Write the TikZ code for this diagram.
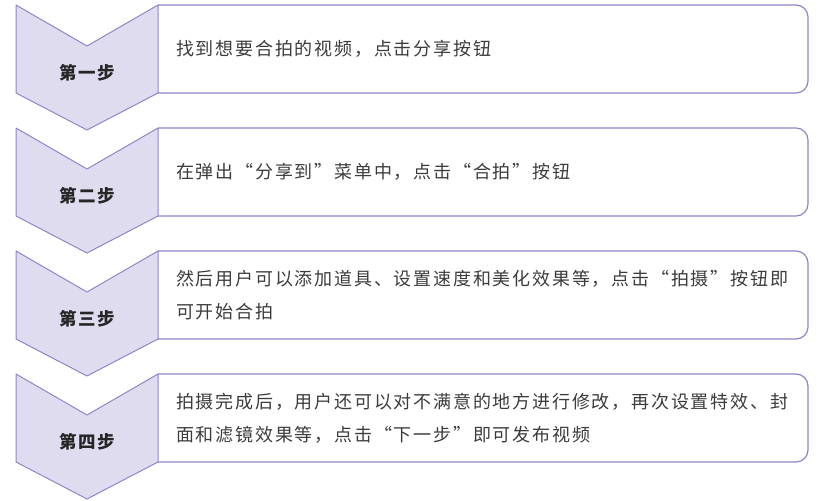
\documentclass[tikz,border=0pt]{standalone}
\usepackage{fontspec}
\newfontfamily\cjk[LetterSpace=10]{Noto Sans CJK SC}
\usetikzlibrary{positioning}
\definecolor{stepfill}{HTML}{E0DCF0}
\definecolor{stepline}{HTML}{8C86C8}
\definecolor{txtgray}{HTML}{3C3C3C}

\begin{document}
\begin{tikzpicture}[x=1pt,y=-1pt,
  chev/.style={draw=stepline,fill=stepfill,line width=1pt,line join=round},
  textbox/.style={draw=stepline,fill=white,line width=1.2pt,rounded corners=12pt},
  steplabel/.style={font=\cjk\fontsize{17.5}{20}\selectfont\bfseries,text=black!85,inner sep=0pt},
  steptext/.style={font=\cjk\fontsize{18}{33}\selectfont,text=txtgray,align=left,anchor=west,inner sep=0pt}]
\useasboundingbox (0,0) rectangle (818,500);
% step 1
\draw[textbox] (158,5)--(808,5)--(808,93)--(158,93);
\draw[chev] (16,5)--(87,46)--(158,5)--(158,93)--(87,130)--(16,93)--cycle;
\node[steplabel] (step1) at (87,73) {第一步};
\node[steptext] (desc1) at (176,49) {找到想要合拍的视频，点击分享按钮};
% step 2
\draw[textbox] (158,128)--(808,128)--(808,216)--(158,216);
\draw[chev] (16,128)--(87,169)--(158,128)--(158,216)--(87,253)--(16,216)--cycle;
\node[steplabel] (step2) at (87,196) {第二步};
\node[steptext] (desc2) at (176,172) {在弹出“分享到”菜单中，点击“合拍”按钮};
% step 3
\draw[textbox] (158,251)--(808,251)--(808,339)--(158,339);
\draw[chev] (16,251)--(87,292)--(158,251)--(158,339)--(87,376)--(16,339)--cycle;
\node[steplabel] (step3) at (87,319) {第三步};
\node[steptext] (desc3) at (176,295) {然后用户可以添加道具、设置速度和美化效果等，点击“拍摄”按钮即\\可开始合拍};
% step 4
\draw[textbox] (158,374)--(808,374)--(808,462)--(158,462);
\draw[chev] (16,374)--(87,415)--(158,374)--(158,462)--(87,499)--(16,462)--cycle;
\node[steplabel] (step4) at (87,442) {第四步};
\node[steptext] (desc4) at (176,418) {拍摄完成后，用户还可以对不满意的地方进行修改，再次设置特效、封\\面和滤镜效果等，点击“下一步”即可发布视频};
\end{tikzpicture}
\end{document}
